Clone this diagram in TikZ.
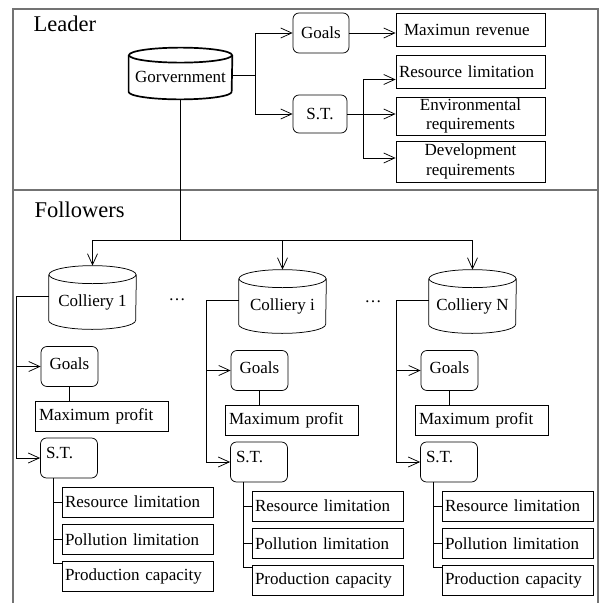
\documentclass[tikz,border=0pt]{standalone}
\usepackage{fontspec}
\setmainfont{Liberation Serif}
\usetikzlibrary{arrows.meta,positioning}

% can outline round a body node: #2 node, #3 x radius, #4 y radius
\newcommand\drawcan[4][]{%
  \draw[#1] (#2.north) ellipse (#3 and #4);
  \draw[#1] (#2.north west) -- ([yshift=#4pt]#2.south west)
    arc (180:0:#3 and #4) -- (#2.north east);
}

\begin{document}
\begin{tikzpicture}[x=1pt,y=-1pt,line width=0.75pt,
  every node/.style={font=\fontsize{17}{19.5}\selectfont},
  arr/.style={-{Straight Barb[length=11pt,width=10pt]}},
  frame/.style={draw=black!55,line width=1.1pt},
  canbody/.style={minimum width=87pt,minimum height=54pt,inner sep=0pt},
  rbox/.style={draw,rounded corners=6pt,minimum width=57pt,minimum height=40pt,inner sep=2pt},
  lbox/.style={draw,align=left,inner xsep=3pt,text width=#1,minimum height=30pt},
  cbox/.style={draw,align=center,text width=143pt,inner xsep=3pt,inner ysep=1pt},
  title/.style={font=\fontsize{22.5}{26}\selectfont,anchor=base west}]
\useasboundingbox (0,0) rectangle (600,603);
% frame
\draw[frame] (13,603) -- (13,9) -- (598,9) -- (598,603);
\draw[frame] (13,190) -- (598,190);
\node[title] (lead) at (30,31) {Leader};
\node[title] (foll) at (31,217) {Followers};

% leader
\node[canbody,minimum width=103pt,minimum height=43.5pt] (gov) at (180.5,77.25) {Gorvernment};
\drawcan[line width=1.7pt]{gov}{51.5}{7.5}
\node[rbox,minimum width=56pt] (lgoal) at (321,33) {Goals};
\node[rbox,minimum width=54pt,minimum height=38pt] (lst) at (320,114) {S.T.};
\node[lbox=133pt,inner xsep=8pt,minimum height=33pt] (rev) at (470.5,29.5) {Maximun revenue};
\node[lbox=143pt,minimum height=33pt] (res) at (470.5,71.5) {Resource limitation};
\node[cbox,minimum height=38pt] (env) at (470.5,116) {Environmental\\requirements};
\node[cbox,minimum height=41pt] (dev) at (470.5,161.5) {Development\\requirements};

\draw ([yshift=2pt]gov.east) -- ++(23,0) coordinate (gj);
\draw[arr] (gj) |- (lgoal.west);
\draw[arr] (gj) |- (lst.west);
\draw[arr] (lgoal.east) -- (lgoal.east -| rev.west);
\draw (lst.east) -- ++(16,0) coordinate (sj);
\draw[arr] (sj) |- ([yshift=-8pt]res.west);
\draw[arr] (lst.east) -- (lst.east -| env.west);
\draw[arr] (sj) |- ([yshift=3.5pt]dev.west);

% followers
\coordinate (bus) at (180.5,240);
\draw (gov.south) -- (gov.south |- bus);
\node (dots1) at (177,300) {\dots};
\node (dots2) at (373,302) {\dots};
\foreach \i/\dx/\dy in {1/0/-4,i/190/0,N/380/0}{
  \begin{scope}[shift={(\dx,\dy)}]
    \node[canbody] (c\i) at (92.5,306) {Colliery \i};
    \drawcan{c\i}{43.5}{9}
    \node[rbox,text depth=6pt] (g\i) at (69.5,370.5) {Goals};
    \node[lbox=125pt,inner xsep=4pt] (mp\i) at (101.5,420) {Maximum profit};
    \node[rbox,align=left,text width=46pt,inner xsep=5pt,text depth=11pt] (s\i) at (69,462) {S.T.};
    \node[lbox=145pt] (r\i) at (137.5,506) {Resource limitation};
    \node[lbox=145pt] (p\i) at (137.5,543.5) {Pollution limitation};
    \node[lbox=145pt] (pc\i) at (137.5,580.5) {Production capacity};
    \draw[arr] (bus) -| ([yshift=9pt]c\i.north);
    \draw ([yshift=6pt]c\i.west) -- ++(-32,0) coordinate (cj\i);
    \draw[arr] (cj\i) |- (g\i.west);
    \draw[arr] (cj\i) |- (s\i.west);
    \draw (g\i.south) -- (g\i.south |- mp\i.north);
    \draw ([xshift=-16pt]s\i.south) |- (r\i.west);
    \draw ([xshift=-16pt]s\i.south) |- (p\i.west);
    \draw ([xshift=-16pt]s\i.south) |- ([yshift=13pt]pc\i.west);
  \end{scope}
}
\end{tikzpicture}
\end{document}
